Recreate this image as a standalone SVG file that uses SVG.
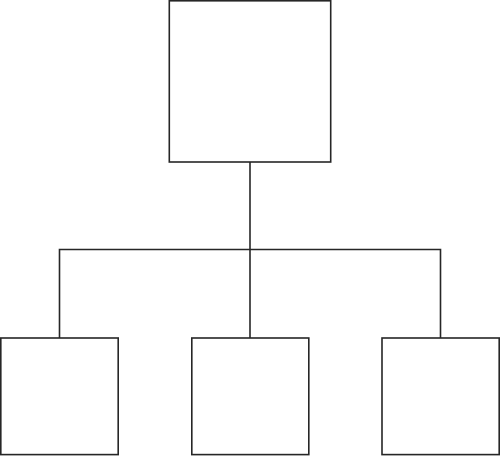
<svg xmlns="http://www.w3.org/2000/svg" width="500" height="456" viewBox="0 0 500 456">
<style>
.box{fill:#fff;stroke:#262626;stroke-width:1.6}
.conn{fill:none;stroke:#262626;stroke-width:1.6}
</style>
<rect width="500" height="456" fill="#fff"/>
<g id="connectors">
<path class="conn" d="M250,162 V338"/>
<path class="conn" d="M59.5,338 V249.5 H440.5 V338"/>
</g>
<g id="root"><rect class="box" x="169.3" y="0.8" width="161.4" height="161.2"/></g>
<g id="child-left"><rect class="box" x="0.8" y="338" width="117.4" height="116.6"/></g>
<g id="child-middle"><rect class="box" x="191.8" y="338" width="117" height="116.6"/></g>
<g id="child-right"><rect class="box" x="382" y="338" width="117.2" height="116.6"/></g>
</svg>
